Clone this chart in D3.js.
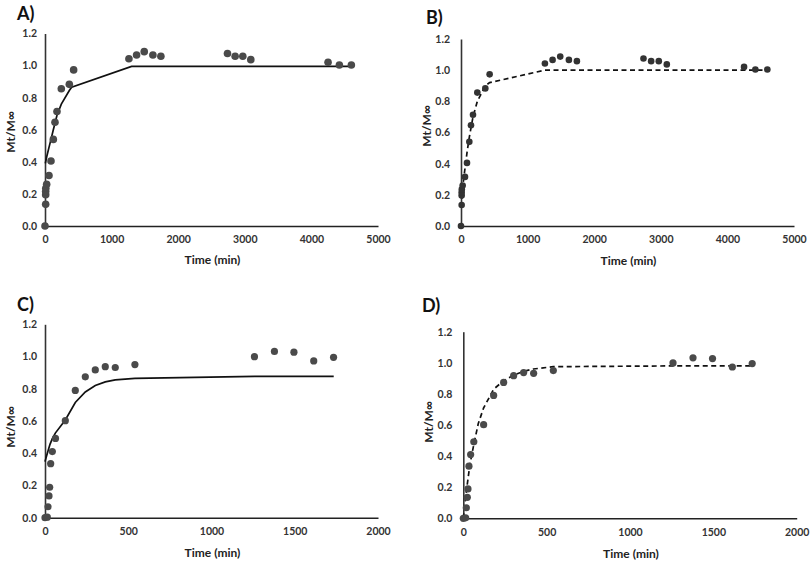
<!DOCTYPE html>
<html>
<head>
<meta charset="utf-8">
<script src="https://cdn.jsdelivr.net/npm/d3@7"></script>
<style>
html,body{margin:0;padding:0;background:#fff;}
svg{display:block;font-family:Lato,"Open Sans",sans-serif;}
</style>
</head>
<body>
<svg id="chart" width="810" height="562"></svg>
<script>
// ---------- Data ----------
// Release data, panels A and B (time in min, Mt/M∞)
const timeAB = [0, 10, 10, 10, 12, 25, 60, 90, 125, 150, 180, 245, 365, 430, 1260, 1375, 1490, 1620, 1740, 2740, 2855, 2970, 3090, 4250, 4420, 4600];
const releaseAB = [0, 0.135, 0.195, 0.215, 0.235, 0.26, 0.315, 0.405, 0.54, 0.647, 0.714, 0.856, 0.883, 0.973, 1.043, 1.066, 1.087, 1.066, 1.058, 1.075, 1.058, 1.058, 1.037, 1.021, 1.004, 1.004];
// Fit A (solid)
const fitTimeA = [5, 25, 60, 90, 125, 150, 180, 245, 365, 400, 1300, 2740, 4640];
const fitA = [0.39, 0.43, 0.49, 0.54, 0.6, 0.64, 0.69, 0.76, 0.845, 0.865, 0.995, 0.995, 0.995];
// Fit B (dashed)
const fitTimeB = [0, 25, 60, 90, 125, 150, 180, 245, 365, 430, 1260, 2740, 4640];
const fitB = [0.12, 0.25, 0.37, 0.47, 0.57, 0.63, 0.7, 0.8, 0.9, 0.92, 1.0, 1.0, 1.0];

// Release data, panels C and D
const timeCD = [0, 14, 18, 24, 28, 34, 44, 63, 122, 182, 242, 302, 362, 422, 540, 1258, 1378, 1495, 1614, 1733];
const releaseCD = [0, 0.003, 0.068, 0.135, 0.189, 0.335, 0.41, 0.492, 0.602, 0.79, 0.874, 0.917, 0.937, 0.932, 0.95, 0.999, 1.032, 1.027, 0.973, 0.995];
// Fit C (solid)
const fitTimeC = [0, 14, 30, 44, 62, 122, 182, 242, 302, 362, 422, 540, 1260, 1734];
const fitC = [0.348, 0.4, 0.455, 0.49, 0.525, 0.606, 0.715, 0.78, 0.82, 0.843, 0.855, 0.865, 0.877, 0.877];
// Fit D (dashed)
const fitTimeD = [0, 14, 24, 34, 44, 64, 90, 122, 182, 242, 302, 360, 420, 540, 1256, 1734];
const fitD = [0.0, 0.13, 0.22, 0.3, 0.37, 0.48, 0.61, 0.71, 0.83, 0.885, 0.92, 0.945, 0.96, 0.975, 0.98, 0.98];

const yTicks = [0, 0.2, 0.4, 0.6, 0.8, 1.0, 1.2];
const xTicksAB = [0, 1000, 2000, 3000, 4000, 5000];
const xTicksCD = [0, 500, 1000, 1500, 2000];
const panelLabels = ["A)", "B)", "C)", "D)"];
const xTitle = "Time (min)";
const yTitle = "Mt/M\u221E";

// ---------- Layout ----------
const panels = [
  {label: panelLabels[0], x0: 45, x1: 378, y0: 226, y1: 33.5, xmax: 5000, xticks: xTicksAB,
   t: timeAB, v: releaseAB, ft: fitTimeA, fv: fitA, dashed: false, r: 3.8, col: "#4a4a4a",
   lab: [17, 20], ytx: 11, yty: 132, xtl: 264},
  {label: panelLabels[1], x0: 461, x1: 794, y0: 226, y1: 39, xmax: 5000, xticks: xTicksAB,
   t: timeAB, v: releaseAB, ft: fitTimeB, fv: fitB, dashed: true, r: 3.3, col: "#333",
   lab: [426, 24], ytx: 427, yty: 126, xtl: 265},
  {label: panelLabels[2], x0: 45, x1: 378, y0: 517.7, y1: 324.3, xmax: 2000, xticks: xTicksCD,
   t: timeCD, v: releaseCD, ft: fitTimeC, fv: fitC, dashed: false, r: 3.6, col: "#4a4a4a",
   lab: [17, 311], ytx: 11, yty: 427, xtl: 557},
  {label: panelLabels[3], x0: 463.3, x1: 796.7, y0: 518.3, y1: 331.7, xmax: 2000, xticks: xTicksCD,
   t: timeCD, v: releaseCD, ft: fitTimeD, fv: fitD, dashed: true, r: 3.6, col: "#4a4a4a",
   lab: [422, 312], ytx: 429, yty: 422, xtl: 558}
];

const svg = d3.select("#chart");

panels.forEach(p => {
  const g = svg.append("g");
  const x = d3.scaleLinear().domain([0, p.xmax]).range([p.x0, p.x1]);
  const y = d3.scaleLinear().domain([0, 1.2]).range([p.y0, p.y1]);

  // x axis
  const xa = g.append("g").attr("transform", `translate(0,${p.y0})`)
    .call(d3.axisBottom(x).tickValues(p.xticks).tickSize(0).tickPadding(10).tickFormat(d3.format("d")));
  xa.select(".domain").attr("stroke", "#222").attr("stroke-width", 1.6);
  xa.selectAll("text").attr("font-size", 10.5).attr("font-weight", 700).attr("fill", "#333")
    .attr("font-family", "Lato, sans-serif");

  // y axis
  const ya = g.append("g").attr("transform", `translate(${p.x0},0)`)
    .call(d3.axisLeft(y).tickValues(yTicks).tickSize(0).tickPadding(p.label === "B)" || p.label === "D)" ? 11 : 8).tickFormat(d3.format(".1f")));
  ya.select(".domain").attr("stroke", "#333").attr("stroke-width", 1.6);
  ya.selectAll("text").attr("font-size", 10.5).attr("font-weight", 700).attr("fill", "#333")
    .attr("font-family", "Lato, sans-serif");

  // fit line
  const line = d3.line().x((d, i) => x(p.ft[i])).y((d, i) => y(p.fv[i]));
  g.append("path").datum(p.fv).attr("d", line)
    .attr("fill", "none").attr("stroke", "#111").attr("stroke-width", 1.7)
    .attr("stroke-dasharray", p.dashed ? "5,3.5" : null);

  // points
  g.append("g").selectAll("circle").data(p.v).join("circle")
    .attr("cx", (d, i) => x(p.t[i])).attr("cy", d => y(d)).attr("r", p.r)
    .attr("fill", p.col);

  // titles
  g.append("text").attr("x", (p.x0 + p.x1) / 2 + 1).attr("y", p.xtl).attr("text-anchor", "middle")
    .attr("font-size", 12).attr("font-weight", 700).attr("fill", "#222").text(xTitle);
  g.append("text").attr("transform", `translate(${p.ytx},${p.yty}) rotate(-90)`)
    .attr("text-anchor", "middle").attr("dy", "0.35em")
    .attr("font-size", 12).attr("font-weight", 700).attr("fill", "#222").text(yTitle);
  g.append("text").attr("x", p.lab[0]).attr("y", p.lab[1])
    .attr("font-size", 18).attr("font-weight", 700).attr("fill", "#111").text(p.label);
});
</script>
</body>
</html>
